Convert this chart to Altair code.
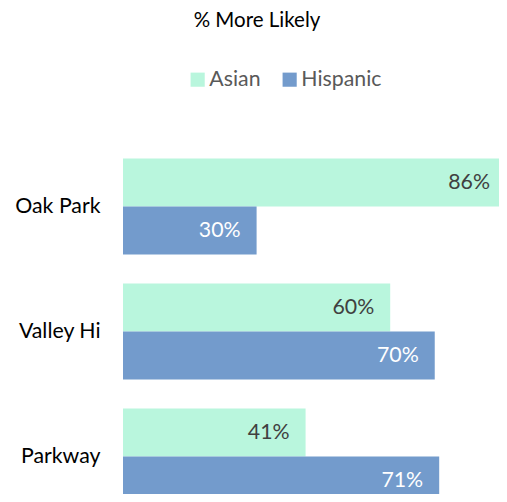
import altair as alt
import pandas as pd

categories = ["Oak Park", "Valley Hi", "Parkway"]
groups = ["Asian", "Hispanic"]
asian = [0.86, 0.60, 0.41]
hispanic = [0.30, 0.70, 0.71]

rows = []
for c, a, h in zip(categories, asian, hispanic):
    rows.append({"school": c, "group": "Asian", "value": a})
    rows.append({"school": c, "group": "Hispanic", "value": h})
df = pd.DataFrame(rows)

FONT = "Lato"
LBL = 21.3

y_enc = alt.Y("school:N", sort=categories, title=None,
              scale=alt.Scale(paddingInner=0.232, paddingOuter=0.116, range=[0, 375]),
              axis=alt.Axis(domain=False, ticks=False, labelPadding=23,
                            labelFontSize=LBL, labelColor="#000000", labelFont=FONT))
yoff = alt.YOffset("group:N", sort=groups, scale=alt.Scale(paddingInner=0, paddingOuter=0))
x_enc = alt.X("value:Q", title=None,
              scale=alt.Scale(domain=[0, 0.86], nice=False, zero=True, range=[0, 383]),
              axis=None)

bars = alt.Chart(df).mark_bar(cornerRadius=0).encode(
    y=y_enc, yOffset=yoff, x=x_enc,
    color=alt.Color("group:N", sort=groups,
                    scale=alt.Scale(domain=groups, range=["#b9f6dd", "#739bcc"]),
                    legend=alt.Legend(title=None, orient="none", direction="horizontal",
                                      legendX=64, legendY=-75, symbolType="square",
                                      symbolSize=200, symbolStrokeWidth=0,
                                      labelFontSize=LBL, labelFont=FONT, labelColor="#595959",
                                      labelOffset=1, columnPadding=18, symbolOpacity=1)),
)

labels = alt.Chart(df).mark_text(align="right", baseline="middle", dx=-16,
                                 fontSize=LBL, font=FONT).encode(
    y=y_enc, yOffset=yoff, x=x_enc,
    text=alt.Text("value:Q", format=".0%"),
    color=alt.condition(alt.datum.group == "Asian", alt.value("#404040"), alt.value("#ffffff")),
)

chart = alt.layer(bars, labels).properties(
    width=376, height=350,
    title=alt.TitleParams("% More Likely", fontSize=20.5, font=FONT, fontWeight="normal",
                          color="#000000", anchor="middle", dx=-54, dy=-34),
    autosize=alt.AutoSizeParams(type="none"),
    padding={"left": 115, "top": 136, "right": 0, "bottom": 0},
).configure_view(stroke=None).configure_axis(grid=False)

chart.save("out.html", embed_options={"renderer": "svg", "actions": False})
